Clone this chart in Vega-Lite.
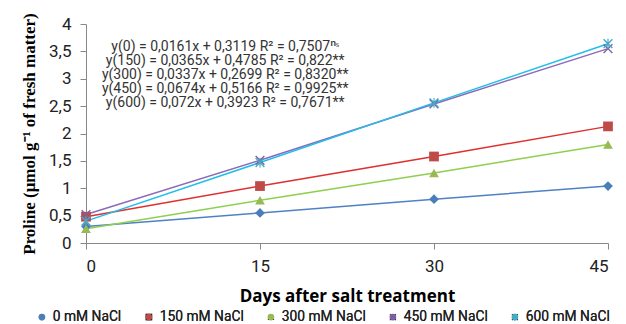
{
  "$schema": "https://vega.github.io/schema/vega-lite/v6.json",
  "width": 522,
  "height": 219,
  "autosize": {"type": "none"},
  "padding": {"left": 86, "top": 24, "right": 18, "bottom": 81},
  "background": "white",
  "config": {
    "view": {"stroke": null},
    "font": "Roboto",
    "axis": {
      "grid": false, "domainColor": "#888", "tickColor": "#888", "tickSize": 6,
      "labelFont": "Roboto", "labelFontSize": 17, "labelFontWeight": "normal", "labelColor": "#222",
      "labelOverlap": false, "titleColor": "#000", "titleFontWeight": "bold"
    }
  },
  "data": {
    "values": [
      {"day": 0, "nacl": "0 mM NaCl", "proline": 0.3},
      {"day": 15, "nacl": "0 mM NaCl", "proline": 0.55},
      {"day": 30, "nacl": "0 mM NaCl", "proline": 0.8},
      {"day": 45, "nacl": "0 mM NaCl", "proline": 1.04},
      {"day": 0, "nacl": "150 mM NaCl", "proline": 0.48},
      {"day": 15, "nacl": "150 mM NaCl", "proline": 1.04},
      {"day": 30, "nacl": "150 mM NaCl", "proline": 1.58},
      {"day": 45, "nacl": "150 mM NaCl", "proline": 2.13},
      {"day": 0, "nacl": "300 mM NaCl", "proline": 0.26},
      {"day": 15, "nacl": "300 mM NaCl", "proline": 0.78},
      {"day": 30, "nacl": "300 mM NaCl", "proline": 1.28},
      {"day": 45, "nacl": "300 mM NaCl", "proline": 1.8},
      {"day": 0, "nacl": "450 mM NaCl", "proline": 0.52},
      {"day": 15, "nacl": "450 mM NaCl", "proline": 1.51},
      {"day": 30, "nacl": "450 mM NaCl", "proline": 2.54},
      {"day": 45, "nacl": "450 mM NaCl", "proline": 3.55},
      {"day": 0, "nacl": "600 mM NaCl", "proline": 0.4},
      {"day": 15, "nacl": "600 mM NaCl", "proline": 1.47},
      {"day": 30, "nacl": "600 mM NaCl", "proline": 2.56},
      {"day": 45, "nacl": "600 mM NaCl", "proline": 3.64}
    ]
  },
  "encoding": {
    "x": {
      "field": "day", "type": "quantitative",
      "scale": {"domain": [0, 45], "nice": false, "zero": false},
      "axis": {
        "values": [0, 15, 30, 45],
        "title": "Days after salt treatment",
        "titleFont": "Open Sans", "titleFontSize": 17,
        "titlePadding": 14, "labelPadding": 9
      }
    },
    "y": {
      "field": "proline", "type": "quantitative",
      "scale": {"domain": [0, 4], "nice": false},
      "axis": {
        "values": [0, 0.5, 1, 1.5, 2, 2.5, 3, 3.5, 4],
        "format": ".1~f",
        "labelExpr": "replace(datum.label, '.', ',')",
        "labelOverlap": false,
        "title": "Proline (μmol g⁻¹ of fresh matter)",
        "titleFont": "Liberation Serif", "titleFontSize": 17,
        "titlePadding": 10, "labelPadding": 9
      }
    }
  },
  "layer": [
    {
      "mark": {"type": "line", "strokeWidth": 1.5},
      "encoding": {
        "color": {
          "field": "nacl", "type": "nominal",
          "sort": ["0 mM NaCl", "150 mM NaCl", "300 mM NaCl", "450 mM NaCl", "600 mM NaCl"],
          "scale": {"range": ["#4F81C6", "#E02F2F", "#8ECF4E", "#8B6BB5", "#1EBEEF"]},
          "legend": null
        }
      }
    },
    {
      "mark": {"type": "point", "filled": true, "size": 95, "opacity": 1},
      "encoding": {
        "color": {
          "field": "nacl", "type": "nominal",
          "sort": ["0 mM NaCl", "150 mM NaCl", "300 mM NaCl", "450 mM NaCl", "600 mM NaCl"],
          "scale": {"range": ["#4A7EBB", "#BE4B48", "#98B954", "#7D60A0", "#46AAC5"]},
          "legend": {
            "title": null, "orient": "none", "direction": "horizontal", "columns": 5,
            "legendX": -51, "legendY": 286,
            "labelFont": "Roboto", "labelFontSize": 13.8, "labelFontWeight": "normal", "labelColor": "#222",
            "symbolSize": 45, "columnPadding": 20, "labelOffset": 4
          }
        },
        "shape": {
          "field": "nacl", "type": "nominal",
          "sort": ["0 mM NaCl", "150 mM NaCl", "300 mM NaCl", "450 mM NaCl", "600 mM NaCl"],
          "scale": {"range": [
            "diamond",
            "square",
            "triangle-up",
            "M0,-0.2L0.8,-1L1,-0.8L0.2,0L1,0.8L0.8,1L0,0.2L-0.8,1L-1,0.8L-0.2,0L-1,-0.8L-0.8,-1Z",
            "M0,-0.2L0.8,-1L1,-0.8L0.2,0L1,0.8L0.8,1L0,0.2L-0.8,1L-1,0.8L-0.2,0L-1,-0.8L-0.8,-1ZM-0.12,-1L0.12,-1L0.12,1L-0.12,1Z"
          ]},
          "legend": {
            "title": null, "orient": "none", "direction": "horizontal", "columns": 5,
            "legendX": -51, "legendY": 286,
            "labelFont": "Roboto", "labelFontSize": 13.8, "labelFontWeight": "normal", "labelColor": "#222",
            "symbolSize": 45, "columnPadding": 20, "labelOffset": 4
          }
        }
      }
    },
    {
      "transform": [{"filter": "datum.day == 0 && datum.nacl == '0 mM NaCl'"}],
      "mark": {
        "type": "text", "align": "center", "baseline": "top",
        "font": "Roboto", "fontSize": 14, "fontWeight": "normal", "color": "#333", "lineHeight": 14
      },
      "encoding": {
        "x": {"datum": 12},
        "y": {"datum": 3.71},
        "text": {"value": [
          "y(0) = 0,0161x + 0,3119 R² = 0,7507ⁿˢ",
          "y(150) = 0,0365x + 0,4785 R² = 0,822**",
          "y(300) = 0,0337x + 0,2699 R² = 0,8320**",
          "y(450) = 0,0674x + 0,5166 R² = 0,9925**",
          "y(600) = 0,072x + 0,3923 R² = 0,7671**"
        ]}
      }
    }
  ],
  "resolve": {"scale": {"color": "independent"}}
}
